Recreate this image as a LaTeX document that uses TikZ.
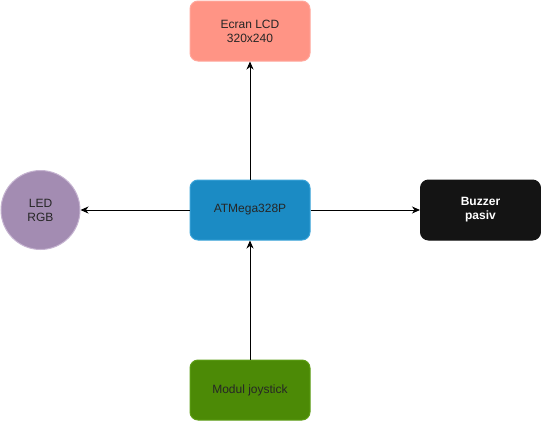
\documentclass[tikz,border=0pt]{standalone}
\usepackage{fontspec}
\setmainfont{Liberation Sans}
\usetikzlibrary{arrows.meta}
\definecolor{lcdfill}{HTML}{FF9485}
\definecolor{lcdline}{HTML}{FFA79C}
\definecolor{mcufill}{HTML}{1B8BC4}
\definecolor{mculine}{HTML}{3AA3D8}
\definecolor{ledfill}{HTML}{A38CB2}
\definecolor{ledline}{HTML}{C6B4D1}
\definecolor{buzfill}{HTML}{141414}
\definecolor{joyfill}{HTML}{4C8A06}
\definecolor{joyline}{HTML}{5E9E16}
\begin{document}
\begin{tikzpicture}[x=1pt,y=-1pt,
  box/.style={rounded corners=8pt,minimum width=120pt,minimum height=60pt,inner sep=0pt,align=center,font=\fontsize{12}{14}\selectfont,line width=1pt},
  conn/.style={line width=1pt,-{Stealth[length=8pt,width=7pt,inset=2.5pt]}}]
\useasboundingbox (0,0) rectangle (541,421);
\node[box,fill=lcdfill,draw=lcdline,text=black!85] (lcd) at (250,31) {Ecran LCD\\320x240};
\node[box,fill=mcufill,draw=mculine,text=black!85] (mcu) at (250,210) {ATMega328P};
\node[circle,minimum size=79pt,inner sep=0pt,align=center,fill=ledfill,draw=ledline,line width=1pt,font=\fontsize{12}{14}\selectfont,text=black!85] (led) at (40.5,210) {LED\\RGB};
\node[box,fill=buzfill,draw=buzfill,text=white,font=\fontsize{12}{14}\selectfont\bfseries] (buz) at (480.5,210) {Buzzer\\pasiv};
\node[box,fill=joyfill,draw=joyline,text=black!85] (joy) at (250,390) {Modul joystick};
\draw[conn] (mcu) -- (lcd);
\draw[conn] (mcu) -- (led);
\draw[conn] (mcu) -- (buz);
\draw[conn] (joy) -- (mcu);
\end{tikzpicture}
\end{document}
